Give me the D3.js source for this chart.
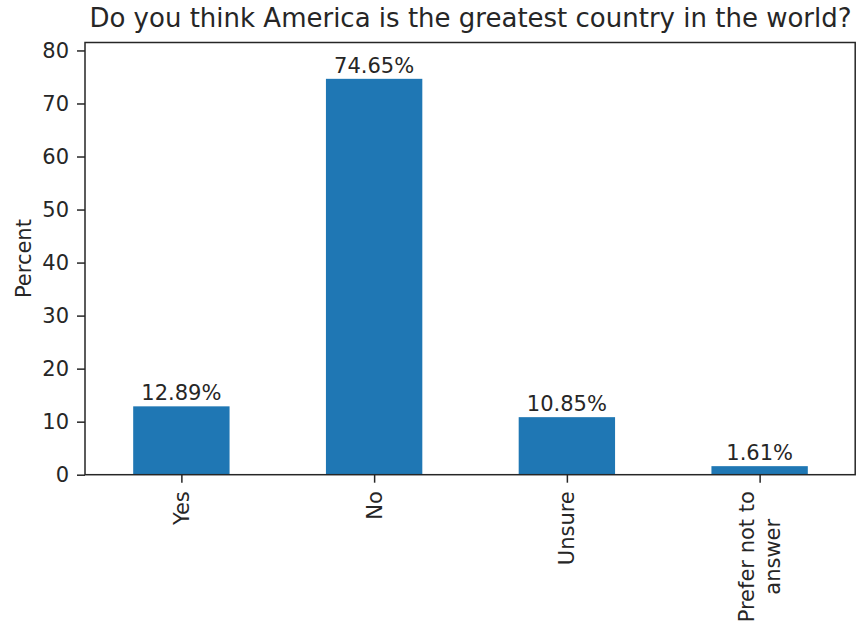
<!DOCTYPE html>
<html><head><meta charset="utf-8">
<script src="https://cdn.jsdelivr.net/npm/d3@7"></script>
<style>body{margin:0;background:#fff}svg{display:block}text{font-family:"DejaVu Sans",sans-serif;fill:#262626}</style>
</head><body><svg id="c" width="856" height="631"></svg>
<script>
const categories = ["Yes", "No", "Unsure", "Prefer not to\nanswer"];
const values = [12.89, 74.65, 10.85, 1.61];
const yTicks = [0, 10, 20, 30, 40, 50, 60, 70, 80];
const title = "Do you think America is the greatest country in the world?";
const yLabel = "Percent";

const FS = 21, TFS = 26;
const svg = d3.select("#c");
const m = {l: 85, r: 856, t: 42.5, b: 474.7};
const x = d3.scaleLinear().domain([-0.5, categories.length - 0.5]).range([m.l, m.r]);
const y = d3.scaleLinear().domain([0, 81.5]).range([m.b, m.t]);
const bw = x(0.25) - x(-0.25);

svg.selectAll("rect.bar").data(values).enter().append("rect")
  .attr("x", (d, i) => x(i) - bw / 2).attr("width", bw)
  .attr("y", d => y(d)).attr("height", d => y(0) - y(d))
  .attr("fill", "#1f77b4");

svg.selectAll("text.val").data(values).enter().append("text")
  .attr("x", (d, i) => x(i)).attr("y", d => y(d) - 6)
  .attr("text-anchor", "middle").attr("font-size", FS)
  .text(d => d.toFixed(2) + "%");

// y axis
const ya = svg.append("g").attr("transform", `translate(${m.l},0)`)
  .call(d3.axisLeft(y).tickValues(yTicks).tickSize(8).tickPadding(8));
ya.select(".domain").remove();
ya.selectAll("line").attr("stroke", "#262626").attr("stroke-width", 1.5);
ya.selectAll("text").attr("font-size", FS).attr("font-family", "DejaVu Sans").attr("fill", "#262626");

// x axis ticks
const xa = svg.append("g").attr("transform", `translate(0,${m.b})`)
  .call(d3.axisBottom(x).tickValues(d3.range(categories.length)).tickSize(8).tickFormat(""));
xa.select(".domain").remove();
xa.selectAll("line").attr("stroke", "#262626").attr("stroke-width", 1.5);

// x tick labels rotated
categories.forEach((c, i) => {
  const lines = c.split("\n");
  const lh = 25.5;
  const g = svg.append("g");
  const ts = lines.map((ln, j) => g.append("text").attr("font-size", FS).attr("text-anchor", "middle").text(ln));
  const maxW = d3.max(ts, t => t.node().getComputedTextLength());
  const cy = m.b + 16.5 + maxW / 2;
  const n = lines.length;
  ts.forEach((t, j) => {
    const cx = x(i) + (j - (n - 1) / 2) * lh + 7.5;
    t.attr("transform", `translate(${cx},${cy}) rotate(-90)`);
  });
});

// spines
svg.append("rect").attr("x", m.l).attr("y", m.t).attr("width", m.r - m.l - 0.8).attr("height", m.b - m.t)
  .attr("fill", "none").attr("stroke", "#262626").attr("stroke-width", 1.5);

svg.append("text").attr("x", (m.l + m.r) / 2).attr("y", 27).attr("text-anchor", "middle")
  .attr("font-size", TFS).text(title);
svg.append("text").attr("transform", `translate(31,${(m.t + m.b) / 2}) rotate(-90)`)
  .attr("text-anchor", "middle").attr("font-size", FS).text(yLabel);
</script></body></html>
